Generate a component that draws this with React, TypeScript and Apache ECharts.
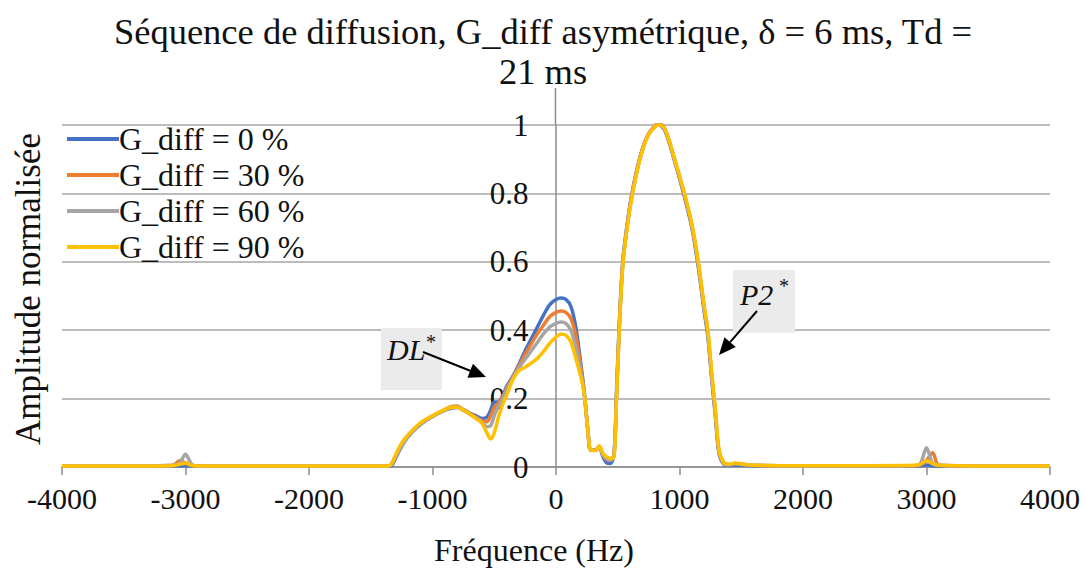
import React, { useEffect, useRef } from "react";
import * as echarts from "echarts";

const freq = [
  -4000, -3500, -3100, -3050, -3000, -2950, -2900, -2500, -2000, -1500,
  -1360, -1330, -1300, -1250, -1200, -1100, -1000, -900, -850, -800,
  -750, -700, -650, -600, -560, -530, -500, -470, -430, -400,
  -350, -300, -250, -200, -150, -100, -50, 0, 40, 80,
  120, 160, 200, 230, 260, 280, 320, 350, 380, 410,
  440, 470, 490, 510, 540, 580, 620, 680, 740, 800,
  830, 880, 960, 1040, 1100, 1150, 1200, 1230, 1260, 1290,
  1320, 1360, 1400, 1450, 1500, 1600, 2000, 2500, 2900, 2950,
  3000, 3050, 3100, 3500, 4000,
];

const g0 = [
  0.002, 0.002, 0.002, 0.003, 0.004, 0.003, 0.002, 0.002, 0.002, 0.002,
  0.002, 0.004, 0.025, 0.06, 0.088, 0.124, 0.148, 0.166, 0.172, 0.174,
  0.167, 0.158, 0.15, 0.142, 0.145, 0.165, 0.19, 0.19, 0.21, 0.235,
  0.265, 0.3, 0.34, 0.375, 0.41, 0.445, 0.475, 0.49, 0.494, 0.49,
  0.47, 0.41, 0.305, 0.215, 0.1, 0.05, 0.05, 0.058, 0.03, 0.012,
  0.01, 0.04, 0.22, 0.4, 0.6, 0.72, 0.81, 0.905, 0.967, 0.995,
  1.0, 0.985, 0.895, 0.79, 0.7, 0.59, 0.455, 0.38, 0.26, 0.15,
  0.04, 0.008, 0.005, 0.006, 0.005, 0.004, 0.003, 0.003, 0.003, 0.004,
  0.006, 0.004, 0.003, 0.002, 0.002,
];

const g30 = [
  0.003, 0.003, 0.005, 0.018, 0.012, 0.004, 0.003, 0.003, 0.003, 0.003,
  0.003, 0.008, 0.03, 0.065, 0.09, 0.126, 0.149, 0.168, 0.176, 0.178,
  0.168, 0.157, 0.146, 0.136, 0.132, 0.15, 0.175, 0.185, 0.205, 0.23,
  0.262, 0.295, 0.33, 0.36, 0.39, 0.415, 0.44, 0.452, 0.456, 0.452,
  0.435, 0.385, 0.295, 0.212, 0.1, 0.05, 0.05, 0.06, 0.035, 0.022,
  0.02, 0.035, 0.21, 0.39, 0.59, 0.715, 0.805, 0.905, 0.968, 0.998,
  1.005, 0.99, 0.9, 0.795, 0.705, 0.6, 0.465, 0.39, 0.27, 0.16,
  0.045, 0.012, 0.007, 0.01, 0.008, 0.005, 0.004, 0.004, 0.004, 0.006,
  0.02, 0.042, 0.006, 0.003, 0.003,
];

const g60 = [
  0.003, 0.003, 0.005, 0.01, 0.037, 0.008, 0.003, 0.003, 0.003, 0.003,
  0.003, 0.006, 0.028, 0.062, 0.088, 0.125, 0.148, 0.166, 0.173, 0.175,
  0.166, 0.155, 0.144, 0.132, 0.118, 0.12, 0.15, 0.175, 0.2, 0.225,
  0.26, 0.29, 0.315, 0.34, 0.365, 0.39, 0.41, 0.42, 0.424, 0.42,
  0.4, 0.35, 0.28, 0.208, 0.1, 0.05, 0.05, 0.06, 0.035, 0.025,
  0.02, 0.035, 0.205, 0.385, 0.59, 0.713, 0.803, 0.902, 0.966, 0.996,
  1.0, 0.99, 0.9, 0.797, 0.707, 0.6, 0.465, 0.39, 0.27, 0.16,
  0.045, 0.01, 0.007, 0.01, 0.008, 0.005, 0.004, 0.004, 0.004, 0.01,
  0.056, 0.01, 0.005, 0.003, 0.003,
];

const g90 = [
  0.003, 0.003, 0.004, 0.008, 0.011, 0.005, 0.003, 0.003, 0.003, 0.003,
  0.003, 0.012, 0.035, 0.07, 0.093, 0.128, 0.15, 0.168, 0.175, 0.175,
  0.166, 0.155, 0.142, 0.128, 0.1, 0.082, 0.1, 0.14, 0.185, 0.21,
  0.255, 0.282, 0.292, 0.304, 0.318, 0.338, 0.362, 0.38, 0.389, 0.385,
  0.367, 0.318, 0.265, 0.21, 0.1, 0.05, 0.048, 0.062, 0.04, 0.03,
  0.025, 0.03, 0.2, 0.38, 0.585, 0.71, 0.8, 0.9, 0.965, 0.995,
  1.0, 0.99, 0.9, 0.8, 0.71, 0.605, 0.47, 0.4, 0.28, 0.17,
  0.05, 0.012, 0.008, 0.012, 0.009, 0.005, 0.004, 0.004, 0.005, 0.008,
  0.018, 0.01, 0.005, 0.003, 0.003,
];

const seriesNames = ["G_diff = 0 %", "G_diff = 30 %", "G_diff = 60 %", "G_diff = 90 %"];
const seriesValues = [g0, g30, g60, g90];
const colors = ["#4472C4", "#ED7D31", "#A5A5A5", "#FFC000"];

const titleText = "Séquence de diffusion, G_diff asymétrique, δ = 6 ms, Td =\n21 ms";
const xName = "Fréquence (Hz)";
const yName = "Amplitude normalisée";

const FONT = "Liberation Serif";

function arrow(x1: number, y1: number, x2: number, y2: number) {
  const dx = x2 - x1;
  const dy = y2 - y1;
  const len = Math.sqrt(dx * dx + dy * dy);
  const ux = dx / len;
  const uy = dy / len;
  const hl = 17;
  const hw = 7.5;
  const bx = x2 - ux * hl;
  const by = y2 - uy * hl;
  const px = -uy * hw;
  const py = ux * hw;
  return [
    {
      type: "line",
      shape: { x1, y1, x2: bx, y2: by },
      style: { stroke: "#000", lineWidth: 2 },
      z: 20,
    },
    {
      type: "polygon",
      shape: { points: [[x2, y2], [bx + px, by + py], [bx - px, by - py]] },
      style: { fill: "#000" },
      z: 20,
    },
  ];
}

export default function App() {
  const ref = useRef<HTMLDivElement>(null);
  useEffect(() => {
    if (!ref.current) return;
    const chart = echarts.init(ref.current, undefined, { renderer: "svg" });
    const option: any = {
      animation: false,
      backgroundColor: "#ffffff",
      title: {
        text: titleText,
        left: "center",
        top: 6,
        textStyle: {
          fontFamily: FONT,
          fontWeight: "normal",
          fontSize: 36.5,
          lineHeight: 40,
          color: "#111",
        },
      },
      legend: {
        orient: "vertical",
        left: 62,
        top: 116,
        icon: "rect",
        itemWidth: 52,
        itemHeight: 4,
        itemGap: 0,
        data: seriesNames,
        textStyle: {
          fontFamily: FONT,
          fontSize: 32,
          lineHeight: 36,
          color: "#111",
          padding: [0, 0, 0, -5],
        },
      },
      grid: { left: 62, right: 36, top: 125, bottom: 102 },
      xAxis: {
        type: "value",
        min: -4000,
        max: 4000,
        interval: 1000,
        axisLine: { lineStyle: { color: "#8c8c8c", width: 1.5 } },
        axisTick: { show: true, length: 8, lineStyle: { color: "#8c8c8c", width: 1.5 } },
        splitLine: { show: false },
        axisLabel: {
          fontFamily: FONT,
          fontSize: 30,
          color: "#111",
          margin: 16,
          formatter: (v: number) => String(v),
        },
      },
      yAxis: {
        type: "value",
        min: 0,
        max: 1,
        interval: 0.2,
        position: "left",
        offset: -(555.5 - 62),
        axisLine: { show: true, onZero: false, lineStyle: { color: "#8c8c8c", width: 1.5 } },
        axisTick: { show: false },
        splitLine: { lineStyle: { color: "#a6a6a6", width: 1.5 } },
        axisLabel: {
          fontFamily: FONT,
          fontSize: 31,
          color: "#111",
          margin: 27,
          formatter: (v: number) => (v === 0 ? "0" : v === 1 ? "1" : v.toFixed(1)),
        },
      },
      series: seriesNames.map((name, i) => ({
        name,
        type: "line",
        smooth: 0.3,
        symbol: "none",
        lineStyle: { color: colors[i], width: 3.5 },
        itemStyle: { color: colors[i] },
        data: freq.map((f, k) => [f, seriesValues[i][k]]),
        z: 5 + i,
      })),
      graphic: [
        {
          type: "line",
          shape: { x1: 555.5, y1: 88, x2: 555.5, y2: 125 },
          style: { stroke: "#8c8c8c", lineWidth: 1.5 },
        },
        {
          type: "text",
          x: 534,
          y: 550,
          style: {
            text: xName,
            align: "center",
            verticalAlign: "middle",
            fontFamily: FONT,
            fontSize: 32,
            fill: "#111",
          },
        },
        {
          type: "text",
          x: 28,
          y: 289,
          rotation: Math.PI / 2,
          style: {
            text: yName,
            align: "center",
            verticalAlign: "middle",
            fontFamily: FONT,
            fontSize: 35,
            fill: "#111",
          },
        },
        {
          type: "rect",
          shape: { x: 381, y: 328, width: 61, height: 62 },
          style: { fill: "#ebebeb" },
          z: 15,
        },
        {
          type: "text",
          x: 387,
          y: 364,
          style: {
            text: "DL",
            verticalAlign: "bottom",
            fontFamily: FONT,
            fontStyle: "italic",
            fontSize: 30,
            fill: "#111",
          },
          z: 16,
        },
        {
          type: "text",
          x: 426,
          y: 352,
          style: {
            text: "*",
            verticalAlign: "bottom",
            fontFamily: FONT,
            fontSize: 20,
            fill: "#111",
          },
          z: 16,
        },
        {
          type: "rect",
          shape: { x: 733, y: 270, width: 62, height: 63 },
          style: { fill: "#ebebeb" },
          z: 15,
        },
        {
          type: "text",
          x: 740,
          y: 309,
          style: {
            text: "P2",
            verticalAlign: "bottom",
            fontFamily: FONT,
            fontStyle: "italic",
            fontSize: 30,
            fill: "#111",
          },
          z: 16,
        },
        {
          type: "text",
          x: 779,
          y: 296,
          style: {
            text: "*",
            verticalAlign: "bottom",
            fontFamily: FONT,
            fontSize: 20,
            fill: "#111",
          },
          z: 16,
        },
        ...arrow(423, 352, 486, 377),
        ...arrow(757, 311, 719, 355),
      ],
    };
    chart.setOption(option);
    return () => chart.dispose();
  }, []);
  return (
    <div
      ref={ref}
      style={{ position: "absolute", left: 0, top: 0, width: 1086, height: 569 }}
    />
  );
}
